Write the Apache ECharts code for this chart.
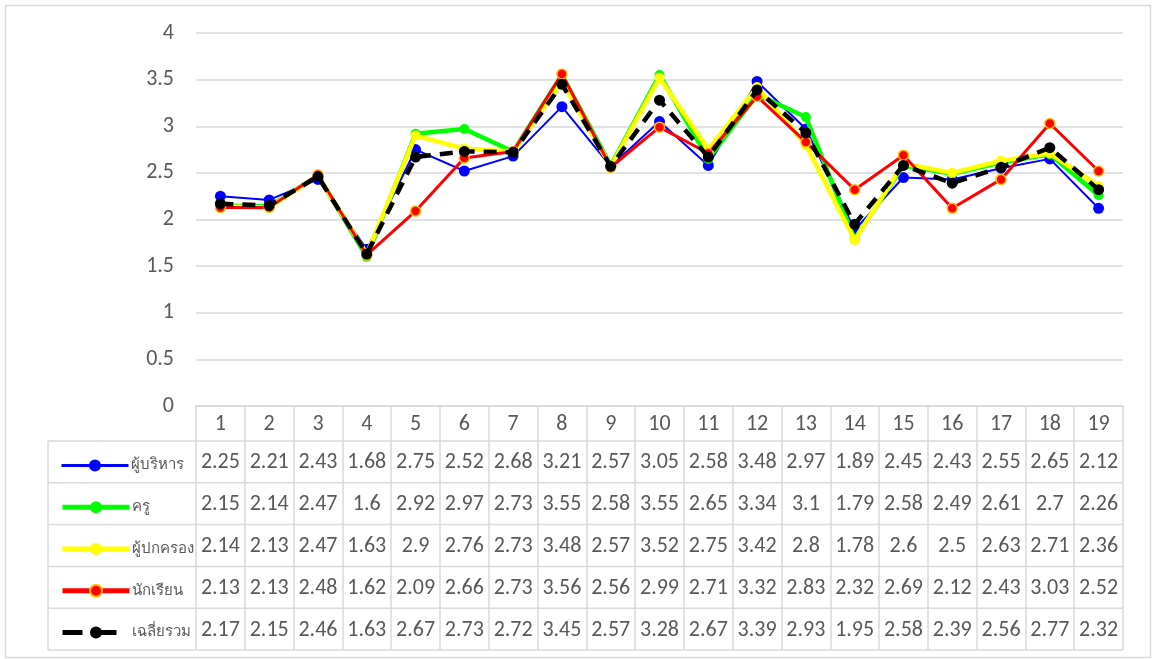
<!DOCTYPE html>
<html lang="th">
<head>
    <meta charset="UTF-8">
    <script src="https://cdn.jsdelivr.net/npm/echarts@6/dist/echarts.min.js"></script>
    <style>
        html, body { margin: 0; padding: 0; background: #fff; }
        #main {
            width: 1154px;
            height: 659px;
        }
    </style>
    <title>chart</title>
</head>
<body>
    <div id="main"></div>
</body>
</html>
<script type="text/javascript">
    // ข้อมูล
    var categories = ['1','2','3','4','5','6','7','8','9','10','11','12','13','14','15','16','17','18','19'];
    var yTicks = [0, 0.5, 1, 1.5, 2, 2.5, 3, 3.5, 4];
    var names = ['ผู้บริหาร', 'ครู', 'ผู้ปกครอง', 'นักเรียน', 'เฉลี่ยรวม'];
    var admin   = [2.25, 2.21, 2.43, 1.68, 2.75, 2.52, 2.68, 3.21, 2.57, 3.05, 2.58, 3.48, 2.97, 1.89, 2.45, 2.43, 2.55, 2.65, 2.12];
    var teacher = [2.15, 2.14, 2.47, 1.6, 2.92, 2.97, 2.73, 3.55, 2.58, 3.55, 2.65, 3.34, 3.1, 1.79, 2.58, 2.49, 2.61, 2.7, 2.26];
    var parent  = [2.14, 2.13, 2.47, 1.63, 2.9, 2.76, 2.73, 3.48, 2.57, 3.52, 2.75, 3.42, 2.8, 1.78, 2.6, 2.5, 2.63, 2.71, 2.36];
    var student = [2.13, 2.13, 2.48, 1.62, 2.09, 2.66, 2.73, 3.56, 2.56, 2.99, 2.71, 3.32, 2.83, 2.32, 2.69, 2.12, 2.43, 3.03, 2.52];
    var average = [2.17, 2.15, 2.46, 1.63, 2.67, 2.73, 2.72, 3.45, 2.57, 3.28, 2.67, 3.39, 2.93, 1.95, 2.58, 2.39, 2.56, 2.77, 2.32];
    var allData = [admin, teacher, parent, student, average];

    var FONT = 'Calibri, Carlito, "Noto Sans", "DejaVu Sans", sans-serif';
    var TXT = '#595959';
    var GRIDC = '#d9d9d9';

    // ตำแหน่งตาราง
    var gridLeft = 196, gridRight = 1123, gridTop = 33, gridBottom = 406;
    var tableLeft = 48;
    var headerBottom = 441;
    var rowH = 41.8;

    var styles = [
        { color: '#0000ff', width: 2, size: 11, border: '#0000ff', dash: 'solid' },
        { color: '#00ff00', width: 4.5, size: 10, border: '#00ff00', dash: 'solid' },
        { color: '#ffff00', width: 4.5, size: 10, border: '#ffff00', dash: 'solid' },
        { color: '#ff0000', width: 3, size: 10, border: '#ffc000', dash: 'solid' },
        { color: '#000000', width: 4.5, size: 11, border: '#000000', dash: [13, 9] }
    ];

    var chart = echarts.init(document.getElementById('main'));

    var series = [];
    var legends = [];
    for (var i = 0; i < names.length; i++) {
        var s = styles[i];
        series.push({
            name: names[i],
            type: 'line',
            data: allData[i],
            symbol: 'circle',
            symbolSize: s.size,
            z: 2 + i,
            lineStyle: { color: s.color, width: s.width, type: s.dash },
            itemStyle: { color: s.color, borderColor: s.border, borderWidth: i == 3 ? 1.5 : 0 },
            emphasis: { disabled: true },
            animation: false
        });
        legends.push({
            data: [names[i]],
            left: 55,
            top: headerBottom + rowH * i + rowH / 2 - 9,
            itemWidth: 67,
            itemHeight: 15,
            itemGap: 0,
            selectedMode: false,
            lineStyle: { width: i == 0 ? 3 : 5, type: s.dash == 'solid' ? 'solid' : [20, 14] },
            textStyle: { color: TXT, fontSize: 15, fontFamily: FONT, padding: [0, 0, 0, -3] }
        });
    }

    var option = {
        animation: false,
        backgroundColor: '#fff',
        grid: {
            left: gridLeft,
            top: gridTop,
            width: gridRight - gridLeft,
            height: gridBottom - gridTop
        },
        legend: legends,
        xAxis: {
            type: 'category',
            data: categories,
            boundaryGap: true,
            axisLine: { show: true, lineStyle: { color: GRIDC, width: 1.5 } },
            axisTick: { show: true, length: headerBottom - gridBottom + rowH * 5, lineStyle: { color: GRIDC, width: 1.5 } },
            axisLabel: { color: TXT, fontSize: 22, fontFamily: FONT, margin: 7 }
        },
        yAxis: {
            type: 'value',
            min: yTicks[0],
            max: yTicks[yTicks.length - 1],
            interval: 0.5,
            axisLine: { show: false },
            axisTick: { show: false },
            axisLabel: { color: TXT, fontSize: 22, fontFamily: FONT, margin: 22 },
            splitLine: { lineStyle: { color: GRIDC, width: 1.5 } }
        },
        series: series
    };
    chart.setOption(option);

    // ตารางข้อมูล
    var graphics = [];
    // กรอบนอก
    graphics.push({
        type: 'rect', silent: true, z: 0,
        shape: { x: 5.5, y: 5.5, width: 1145, height: 652 },
        style: { fill: null, stroke: GRIDC, lineWidth: 1.5 }
    });
    for (var r = 0; r <= 5; r++) {
        var y = headerBottom + rowH * r;
        graphics.push({
            type: 'line', silent: true, z: 1,
            shape: { x1: tableLeft, y1: y, x2: gridRight, y2: y },
            style: { stroke: GRIDC, lineWidth: 1.5 }
        });
    }
    graphics.push({
        type: 'line', silent: true, z: 1,
        shape: { x1: tableLeft, y1: headerBottom, x2: tableLeft, y2: headerBottom + rowH * 5 },
        style: { stroke: GRIDC, lineWidth: 1.5 }
    });
    for (var i = 0; i < allData.length; i++) {
        for (var c = 0; c < categories.length; c++) {
            var px = chart.convertToPixel({ xAxisIndex: 0 }, categories[c]);
            graphics.push({
                type: 'text', silent: true, z: 1,
                x: px,
                y: headerBottom + rowH * i + rowH / 2 + 1,
                style: {
                    text: String(allData[i][c]),
                    fill: TXT,
                    font: '22px ' + FONT,
                    align: 'center',
                    verticalAlign: 'middle'
                }
            });
        }
    }
    chart.setOption({ graphic: graphics });
</script>
